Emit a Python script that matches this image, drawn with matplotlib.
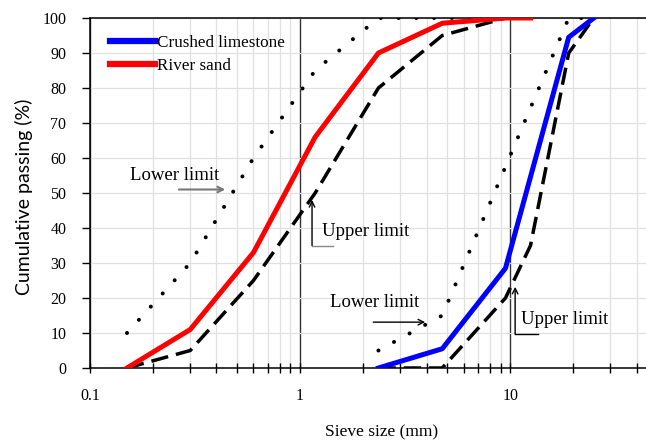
import numpy as np
import matplotlib
matplotlib.use("Agg")
import matplotlib.pyplot as plt
from matplotlib.ticker import LogLocator, NullFormatter, FixedLocator, FixedFormatter

# Sieve sizes (mm) and cumulative passing (%)
fine_sieves = [0.15, 0.3, 0.6, 1.18, 2.36, 4.75, 9.5]
fine_lower = [10, 30, 60, 85, 100, 100, 100]
fine_upper = [0, 5, 25, 50, 80, 95, 100]

sand_sieves = [0.15, 0.3, 0.6, 1.18, 2.36, 4.75, 9.5, 12.5]
sand_passing = [0, 11, 33, 66, 90, 98.5, 100, 100]

coarse_lower_sieves = [2.36, 4.75, 19, 25]
coarse_lower = [5, 15, 100, 100]
coarse_upper_sieves = [2.36, 4.75, 9.5, 12.5, 19, 25]
coarse_upper = [0, 0, 20, 35, 90, 100]

limestone_sieves = [2.36, 4.75, 9.5, 19, 25]
limestone_passing = [0, 5.5, 28.5, 94.5, 100]

x_ticks = [0.1, 1, 10]
x_labels = ["0.1", "1", "10"]
y_ticks = list(range(0, 101, 10))

serif = "Liberation Serif"

fig = plt.figure(figsize=(6.46, 4.41), dpi=100)
ax = fig.add_axes([90 / 646, 73 / 441, (657 - 90) / 646, 350 / 441])

dot = (0, (0.01, 4.4))
dash = (0, (5, 2.3))
ax.plot(fine_sieves, fine_lower, color="black", lw=2.9, ls=dot,
        dash_capstyle="round", zorder=3)
ax.plot(fine_sieves, fine_upper, color="black", lw=2.5, ls=dash, zorder=3)
ax.plot(coarse_lower_sieves, coarse_lower, color="black", lw=2.9, ls=dot,
        dash_capstyle="round", zorder=3)
ax.plot(coarse_upper_sieves, coarse_upper, color="black", lw=2.5, ls=dash, zorder=3)
ax.plot(limestone_sieves, limestone_passing, color="#0000ff", lw=3.6,
        label="Crushed limestone", zorder=4)
ax.plot(sand_sieves, sand_passing, color="#ff0000", lw=3.6,
        label="River sand", zorder=4)

ax.set_xscale("log")
ax.set_xlim(0.1, 50)
ax.set_ylim(0, 100)

ax.xaxis.set_major_locator(FixedLocator(x_ticks))
ax.xaxis.set_major_formatter(FixedFormatter(x_labels))
ax.xaxis.set_minor_locator(LogLocator(base=10, subs=np.arange(2, 10)))
ax.xaxis.set_minor_formatter(NullFormatter())
ax.set_yticks(y_ticks)

ax.tick_params(axis="x", which="both", direction="inout", length=7.5, width=1.0,
               color="black", pad=11, labelsize=11.5)
ax.tick_params(axis="y", which="both", direction="out", length=6, width=1.0,
               color="black", pad=11, labelsize=11.5)
for lab in ax.get_xticklabels() + ax.get_yticklabels():
    lab.set_fontfamily(serif)

ax.xaxis.grid(True, which="minor", color="#e0e0e0", lw=0.9)
ax.xaxis.grid(True, which="major", color="#333333", lw=1.0)
ax.yaxis.grid(True, which="major", color="#e0e0e0", lw=0.9)
ax.set_axisbelow(True)

for side in ["left", "bottom", "top"]:
    ax.spines[side].set_color("black")
    ax.spines[side].set_linewidth(1.1)
ax.spines["right"].set_visible(False)

ax.set_xlabel("Sieve size (mm)", fontfamily=serif, fontsize=12.5)
ax.xaxis.set_label_coords((382 - 90) / 567, -(424 - 368) / 350)
ax.set_ylabel("Cumulative passing (%)", fontfamily="Lato", fontsize=14)
ax.yaxis.set_label_coords(-(90 - 33) / 567, (368 - 197) / 350)

leg = ax.legend(loc="upper left", bbox_to_anchor=(0.036, 0.952), frameon=False,
                handlelength=2.6, handletextpad=0.15, labelspacing=0.4,
                borderpad=0, borderaxespad=0, prop={"family": serif, "size": 12.3})
for line in leg.get_lines():
    line.set_linewidth(4.5)

# Labels for the grading limits
txt = dict(fontfamily=serif, fontsize=13.5)
ax.annotate("", xy=(0.454, 51), xytext=(0.257, 51),
            arrowprops=dict(arrowstyle="->", color="#777777", lw=1.5))
ax.text(0.155, 55, "Lower limit", va="center", ha="left", **txt)

ax.annotate("", xy=(1.14, 48), xytext=(1.14, 35),
            arrowprops=dict(arrowstyle="->", color="black", lw=1.0,
                            shrinkA=0, shrinkB=0))
ax.plot([1.14, 1.44], [35, 35], color="#888888", lw=1.0)
ax.text(1.27, 39, "Upper limit", va="center", ha="left", **txt)

ax.annotate("", xy=(3.94, 13.1), xytext=(2.23, 13.1),
            arrowprops=dict(arrowstyle="->", color="black", lw=1.0,
                            shrinkA=0, shrinkB=0))
ax.text(1.39, 18.8, "Lower limit", va="center", ha="left", **txt)

ax.annotate("", xy=(10.56, 23.2), xytext=(10.56, 9.7),
            arrowprops=dict(arrowstyle="->", color="black", lw=1.0,
                            shrinkA=0, shrinkB=0))
ax.plot([10.56, 13.6], [9.7, 9.7], color="black", lw=1.0)
ax.text(11.3, 13.8, "Upper limit", va="center", ha="left", **txt)

fig.savefig("out.png", dpi=100)
